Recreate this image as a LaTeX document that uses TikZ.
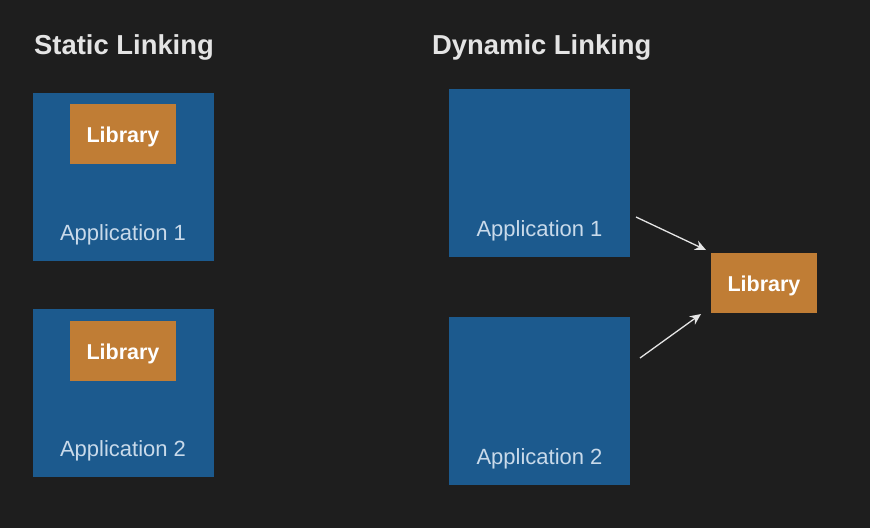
\documentclass[tikz,border=0pt]{standalone}
\usepackage{fontspec}
\setmainfont{Liberation Sans}
\usetikzlibrary{arrows.meta}
\definecolor{bg}{HTML}{1E1E1E}
\definecolor{appblue}{HTML}{1C5A8E}
\definecolor{liborange}{HTML}{C07D35}
\definecolor{apptext}{HTML}{C9DAEA}
\definecolor{titletext}{HTML}{E4E4E4}
\tikzset{
  appbox/.style={fill=appblue, draw=none, minimum width=181pt, minimum height=168pt, inner sep=0pt},
  libbox/.style={fill=liborange, draw=none, minimum width=106pt, minimum height=60pt, inner sep=0pt},
  libtext/.style={text=white, font=\fontsize{21.5}{21.5}\selectfont\bfseries, anchor=base},
  apptitle/.style={text=apptext, font=\fontsize{22}{22}\selectfont, anchor=base},
  heading/.style={text=titletext, font=\fontsize{27.4}{27.4}\selectfont\bfseries, anchor=base west, inner sep=0pt},
  conn/.style={draw=white!90!black, line width=1.3pt, -{Stealth[length=11pt,width=10pt]}}
}
\begin{document}
\begin{tikzpicture}[x=1pt,y=-1pt]
\fill[bg] (0,0) rectangle (870,528);
\useasboundingbox (0,0) rectangle (870,528);
\node[heading] (hs) at (34,54) {Static Linking};
\node[heading] (hd) at (432,54) {Dynamic Linking};
% static
\node[appbox] (sa1) at (123,177) {};
\node[libbox] (sl1) at (123,134) {};
\node[libtext] at (123,142.5) {Library};
\node[apptitle] (st1) at (123,240) {Application 1};
\node[appbox] (sa2) at (123,393) {};
\node[libbox] (sl2) at (123,351) {};
\node[libtext] at (123,359.5) {Library};
\node[apptitle] (st2) at (123,456) {Application 2};
% dynamic
\node[appbox] (da1) at (539.5,173) {};
\node[apptitle] (dt1) at (539.5,236) {Application 1};
\node[appbox] (da2) at (539.5,401) {};
\node[apptitle] (dt2) at (539.5,464) {Application 2};
\node[libbox] (dl) at (764,282.5) {};
\node[libtext] at (764,291) {Library};
\coordinate (a1s) at (636,217);
\coordinate (a1e) at (706,250);
\coordinate (a2s) at (640,358);
\coordinate (a2e) at (701,314);
\draw[conn] (a1s) -- (a1e);
\draw[conn] (a2s) -- (a2e);
\end{tikzpicture}
\end{document}
